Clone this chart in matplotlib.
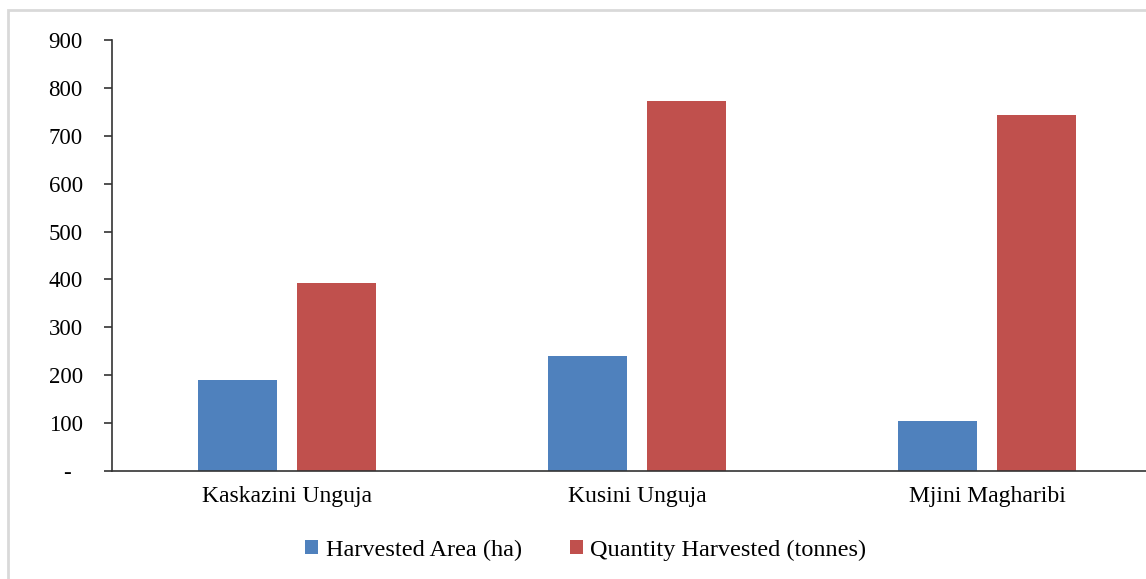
import numpy as np
import matplotlib.pyplot as plt
from matplotlib.patches import Rectangle

# data
districts = ['Kaskazini Unguja', 'Kusini Unguja', 'Mjini Magharibi']
harvested_area = [190, 240, 104]
quantity_harvested = [393, 772, 743]
yticks = [0, 100, 200, 300, 400, 500, 600, 700, 800, 900]
ytick_labels = ['-  ', '100', '200', '300', '400', '500', '600', '700', '800', '900']

plt.rcParams['font.family'] = ['Liberation Serif', 'DejaVu Serif']

W, H = 1146, 579
fig = plt.figure(figsize=(W / 100, H / 100), dpi=100)

# light grey frame round the chart area (runs off the right / bottom edge)
fig.patches.append(Rectangle((8 / W, -0.1), 1.2, 1 - 10 / H + 0.1, transform=fig.transFigure,
                             fill=False, edgecolor='#d9d9d9', linewidth=2))

ax = fig.add_axes([112 / W, (H - 471) / H, (W - 112) / W, (471 - 40) / H])

x = np.arange(len(districts))
w = 0.226
ax.bar(x - 0.1415, harvested_area, width=w, color='#4f81bd', label='Harvested Area (ha)')
ax.bar(x + 0.1425, quantity_harvested, width=w, color='#c0504d', label='Quantity Harvested (tonnes)')

ax.set_xlim(-0.5, (W - 112) / 350 - 0.5)
ax.set_ylim(0, 900)
ax.set_yticks(yticks)
ax.set_yticklabels(ytick_labels)
ax.set_xticks(x)
ax.set_xticklabels(districts)

for s in ['top', 'right']:
    ax.spines[s].set_visible(False)
for s in ['left', 'bottom']:
    ax.spines[s].set_linewidth(1.2)
    ax.spines[s].set_color('#333333')
ax.tick_params(axis='y', length=6, width=1.2, color='#333333', labelsize=16.5, pad=15)
ax.tick_params(axis='x', length=0, labelsize=17, pad=10.5)

# legend centred at about x=585, y=550 px
lx = (586 - 112) / (W - 112)
ly = -(550 - 471) / (471 - 40)
ax.legend(loc='center', bbox_to_anchor=(lx, ly), ncol=2, frameon=False, fontsize=17.5,
          handlelength=0.53, handleheight=0.53, handletextpad=0.3, columnspacing=2.0)

fig.savefig('out.png', dpi=100)
